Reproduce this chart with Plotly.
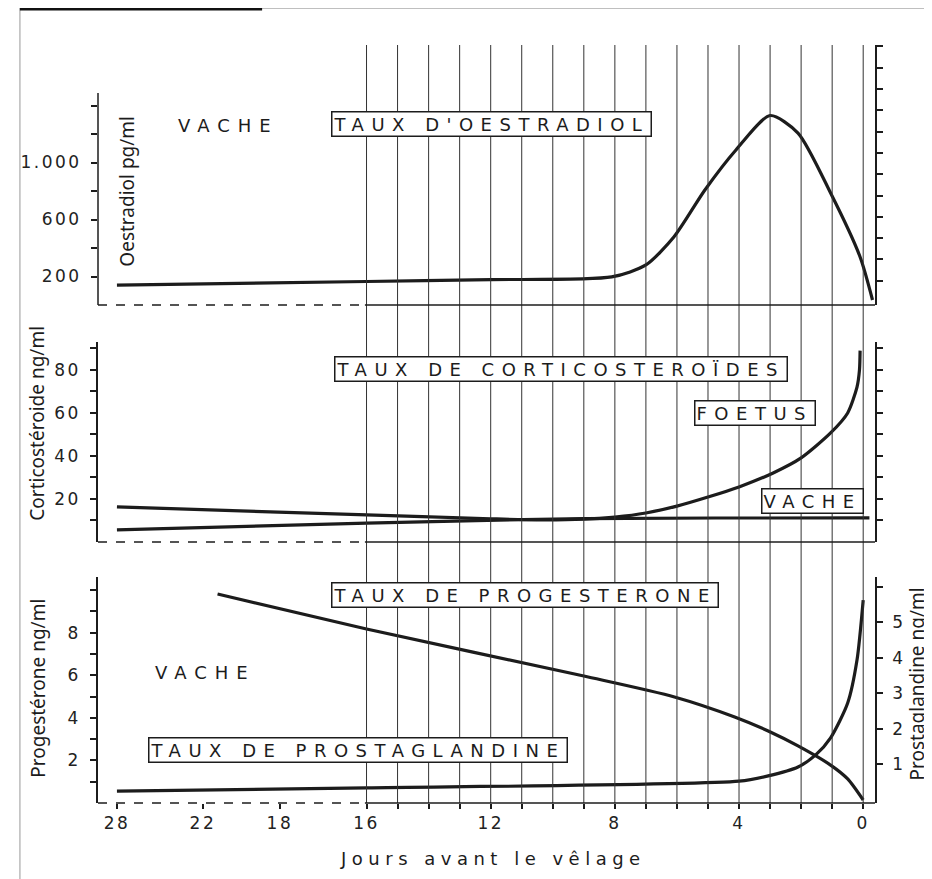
import numpy as np
import plotly.graph_objects as go

# --- data (days before calving) ---
oestradiol_days = [28, 16, 12, 8.1, 7, 6.1, 5.1, 4.1, 3.0, 2.1, 1.05, 0.1, -0.3]
oestradiol_pg = [140, 165, 178, 197, 281, 477, 807, 1088, 1330, 1207, 786, 337, 35]

foetus_days = [28, 16, 12, 10.5, 9, 8, 7, 6, 5, 4, 2.9, 2, 1.05, 0.5, 0.2, 0.12, 0.1]
foetus_cortico = [16.3, 12.6, 10.8, 10.3, 10.6, 11.6, 13.5, 16.7, 20.9, 25.6, 32.1, 39.1, 50.7, 60, 72, 80, 89]

vache_days = [28, 16, 9, 0, -0.2]
vache_cortico = [5.6, 8.8, 10.9, 11.2, 11.2]

progesterone_days = [21.24, 16, 9, 6.08, 4.14, 3.06, 2.1, 1.05, 0.5, 0]
progesterone = [9.81, 8.17, 5.96, 4.98, 4.04, 3.38, 2.68, 1.78, 1.13, 0.14]

prosta_days = [28, 16, 4, 3.06, 2.1, 1.53, 1.05, 0.5, 0.2, 0]
prostaglandine = [0.25, 0.34, 0.53, 0.68, 0.93, 1.27, 1.75, 2.73, 3.94, 5.63]

day_ticks = [0, 4, 8, 12, 16, 18, 22, 28]

# the original day axis is compressed beyond 16 days
DAY_BREAKS = [0, 16, 18, 22, 28]
POS_BREAKS = [0, 16, 18.79, 21.27, 24.04]


def pos(days):
    d = np.asarray(days, dtype=float)
    return np.where(d < 0, d, np.interp(d, DAY_BREAKS, POS_BREAKS)).tolist()


def px_x(px):
    return (px - 89) / 786


def px_y(py):
    return (805 - py) / 760


INK = "#1c1c1c"
FONT = "DejaVu Sans"

fig = go.Figure()
line = dict(color=INK, width=3.2, shape="spline", smoothing=0.7)
fig.add_trace(go.Scatter(x=pos(oestradiol_days), y=oestradiol_pg, mode="lines", line=line,
                         xaxis="x", yaxis="y", name="Oestradiol"))
fig.add_trace(go.Scatter(x=pos(foetus_days), y=foetus_cortico, mode="lines", line=line,
                         xaxis="x", yaxis="y2", name="Foetus"))
fig.add_trace(go.Scatter(x=pos(vache_days), y=vache_cortico, mode="lines", line=line,
                         xaxis="x", yaxis="y2", name="Vache"))
fig.add_trace(go.Scatter(x=pos(progesterone_days), y=progesterone, mode="lines", line=line,
                         xaxis="x", yaxis="y3", name="Progestérone"))
fig.add_trace(go.Scatter(x=pos(prosta_days), y=prostaglandine, mode="lines", line=line,
                         xaxis="x", yaxis="y4", name="Prostaglandine"))
# invisible trace so the decorative right axis of the top panel is drawn
fig.add_trace(go.Scatter(x=[0], y=[0], mode="markers", marker=dict(opacity=0),
                         xaxis="x", yaxis="y5", hoverinfo="skip"))

shapes = []
# vertical day lines, 16 -> 0
for xv in pos(list(range(0, 17))):
    shapes.append(dict(type="line", xref="x", yref="paper", x0=xv, x1=xv,
                       y0=px_y(803), y1=px_y(45), line=dict(color="#333", width=1)))
# panel baselines: dashed left of day 16, solid after
for py in [305, 542, 803]:
    shapes.append(dict(type="line", xref="paper", yref="paper", x0=0, x1=px_x(359),
                       y0=px_y(py), y1=px_y(py), line=dict(color=INK, width=1.3, dash="dash")))
    shapes.append(dict(type="line", xref="paper", yref="paper", x0=px_x(359), x1=px_x(875),
                       y0=px_y(py), y1=px_y(py), line=dict(color=INK, width=1.3)))
# left axis line of the top panel
shapes.append(dict(type="line", xref="paper", yref="paper", x0=0, x1=0,
                   y0=px_y(305), y1=px_y(93), line=dict(color=INK, width=1.5)))
# scan frame
shapes.append(dict(type="line", xref="paper", yref="paper", x0=px_x(10), x1=px_x(932),
                   y0=px_y(8), y1=px_y(8), line=dict(color="#aaa", width=1.5)))
shapes.append(dict(type="line", xref="paper", yref="paper", x0=px_x(10), x1=px_x(10),
                   y0=px_y(8), y1=px_y(879), line=dict(color="#bbb", width=1.5)))
shapes.append(dict(type="line", xref="paper", yref="paper", x0=px_x(10), x1=px_x(255),
                   y0=px_y(9), y1=px_y(9), line=dict(color="#111", width=3)))


def spaced(text, ls=4):
    return f'<span style="letter-spacing:{ls}px">{text}</span>'


def note(text, cx, cy, **kw):
    return dict(text=text, xref="paper", yref="paper", x=px_x(cx), y=px_y(cy),
                xanchor="center", yanchor="middle", showarrow=False, **kw)


annotations = []
boxes = [
    ("TAUX D'OESTRADIOL", 487, 124),
    ("TAUX DE CORTICOSTEROÏDES", 557, 369),
    ("FOETUS", 754, 413),
    ("VACHE", 812, 501),
    ("TAUX DE PROGESTERONE", 521, 595),
    ("TAUX DE PROSTAGLANDINE", 352, 750),
]
for text, cx, cy in boxes:
    annotations.append(note(spaced(text, 7.5), cx, cy,
                            font=dict(family=FONT, size=18, color=INK),
                            bordercolor=INK, borderwidth=1.5, borderpad=1, bgcolor="white"))
for cx, cy in [(221, 125), (198, 672)]:
    annotations.append(note(spaced("VACHE", 8), cx, cy,
                            font=dict(family=FONT, size=18, color=INK)))
titles = [
    ("Oestradiol pg/ml", 118, 191),
    ("Corticostéroide ng/ml", 27, 423),
    ("Progestérone ng/ml", 28, 688),
    ("Prostaglandine ng/ml", 917, 684),
]
for text, cx, cy in titles:
    annotations.append(note(text, cx, cy, textangle=-90,
                            font=dict(family="Noto Sans", size=19, color=INK)))
annotations.append(note(spaced("Jours avant le vêlage", 5.5), 489, 858,
                        font=dict(family=FONT, size=18, color=INK)))


def tl(labels):
    return [spaced(t, 2.5) if t else "" for t in labels]


tickfont = dict(family=FONT, size=17, color="#222")
axis_common = dict(showgrid=False, zeroline=False, ticks="outside", ticklen=6,
                   tickcolor=INK, tickwidth=1.5, tickfont=tickfont, linecolor=INK, linewidth=1.5,
                   ticklabelstandoff=6)

x_ticks = list(range(0, 17)) + [18, 22, 28]

fig.update_layout(
    width=924, height=871,
    margin=dict(l=81, r=57, t=37, b=74),
    paper_bgcolor="white", plot_bgcolor="white",
    showlegend=False,
    shapes=shapes,
    annotations=annotations,
    xaxis=dict(range=[24.65, -0.38], anchor="y3", showgrid=False, zeroline=False,
               showline=False, ticks="outside", ticklen=5, tickcolor=INK, tickwidth=1.5,
               tickvals=pos(x_ticks),
               ticktext=tl([str(d) if d in day_ticks else "" for d in x_ticks]),
               tickfont=tickfont, ticklabelstandoff=0),
    yaxis=dict(domain=[px_y(305), 1.0], range=[0, 1825], anchor="x", showline=False,
               tickvals=[200, 400, 600, 800, 1000, 1200, 1400],
               ticktext=tl(["200", "", "600", "", "1.000", "", ""]), **axis_common),
    yaxis5=dict(overlaying="y", side="right", range=[-0.14, 12.07], anchor="x", showline=True,
                tickvals=list(range(1, 13)), showticklabels=False, **axis_common),
    yaxis2=dict(domain=[px_y(542), px_y(342)], range=[0, 93], anchor="x", showline=True,
                mirror="ticks", tickvals=list(range(10, 100, 10)),
                ticktext=tl(["", "20", "", "40", "", "60", "", "80", ""]), **axis_common),
    yaxis3=dict(domain=[px_y(803), px_y(577)], range=[0, 10.61], anchor="x", showline=True,
                tickvals=list(range(1, 11)),
                ticktext=tl(["", "2", "", "4", "", "6", "", "8", "", ""]), **axis_common),
    yaxis4=dict(overlaying="y3", side="right", range=[-0.085, 6.28], anchor="x", showline=True,
                tickvals=list(range(1, 7)), ticktext=tl(["1", "2", "3", "4", "5", ""]),
                **axis_common),
)

fig.write_html("out.html")
